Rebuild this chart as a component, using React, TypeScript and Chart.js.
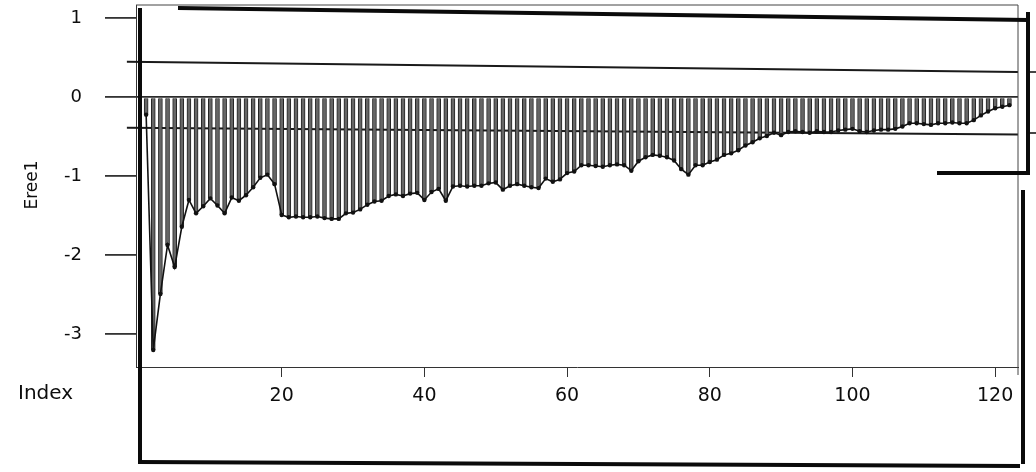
import React, { useEffect, useRef } from "react";
import { Chart, registerables } from "chart.js";

Chart.register(...registerables);

// Residual series (Eree1) by observation index
const EREE1: number[] = [
  -0.22, -3.2, -2.49, -1.87, -2.15, -1.64, -1.3, -1.47, -1.38, -1.28,
  -1.37, -1.47, -1.27, -1.31, -1.24, -1.14, -1.02, -0.98, -1.1, -1.49,
  -1.52, -1.51, -1.52, -1.52, -1.51, -1.53, -1.54, -1.54, -1.47, -1.46,
  -1.42, -1.36, -1.32, -1.31, -1.25, -1.23, -1.25, -1.22, -1.21, -1.3,
  -1.2, -1.16, -1.31, -1.13, -1.12, -1.13, -1.12, -1.12, -1.09, -1.08,
  -1.17, -1.12, -1.1, -1.12, -1.14, -1.15, -1.03, -1.07, -1.04, -0.96,
  -0.94, -0.86, -0.86, -0.87, -0.88, -0.86, -0.85, -0.86, -0.93, -0.81,
  -0.76, -0.73, -0.74, -0.76, -0.8, -0.91, -0.98, -0.86, -0.86, -0.82,
  -0.79, -0.73, -0.71, -0.67, -0.61, -0.57, -0.52, -0.49, -0.45, -0.48,
  -0.44, -0.43, -0.44, -0.45, -0.43, -0.44, -0.44, -0.42, -0.41, -0.4,
  -0.43, -0.44, -0.42, -0.41, -0.41, -0.4, -0.37, -0.33, -0.33, -0.34,
  -0.35, -0.33, -0.33, -0.32, -0.33, -0.33, -0.29, -0.23, -0.18, -0.14,
  -0.12, -0.1,
];
const INDEX: number[] = EREE1.map((_, i) => i + 1);

const REF_X: number[] = [-1.7, 123.2];
const REF_UPPER: number[] = [0.45, 0.32];
const REF_LOWER: number[] = [-0.385, -0.47];

const Y_TICKS: number[] = [1, 0, -1, -2, -3];
const X_TICKS: number[] = [20, 40, 60, 80, 100, 120];

const X_MIN = -0.42;
const X_MAX = 123.2;
const Y_MIN = -3.415;
const Y_MAX = 1.168;

const FONT = "'DejaVu Sans', 'Liberation Sans', Arial, sans-serif";
const INK = "#0d0d0d";

const decorPlugin = {
  id: "decor",
  afterDraw(chart: any) {
    const { ctx, chartArea } = chart;
    ctx.save();
    // thin plot box (top / right)
    ctx.strokeStyle = "#444";
    ctx.lineWidth = 1;
    ctx.beginPath();
    ctx.moveTo(chartArea.left, chartArea.top);
    ctx.lineTo(chartArea.right, chartArea.top);
    ctx.lineTo(chartArea.right, chartArea.bottom + 8);
    ctx.stroke();

    // texts
    ctx.fillStyle = INK;
    ctx.font = `20px ${FONT}`;
    ctx.textBaseline = "middle";
    ctx.textAlign = "left";
    ctx.fillText("Index", 18, 394);
    ctx.save();
    ctx.translate(33, 185);
    ctx.rotate(-Math.PI / 2);
    ctx.textAlign = "center";
    ctx.font = `17px ${FONT}`;
    ctx.fillText("Eree1", 0, 0);
    ctx.restore();

    // thick hand-drawn frame
    ctx.strokeStyle = "#0a0a0a";
    ctx.lineWidth = 4;
    ctx.lineCap = "butt";
    const seg = (x1: number, y1: number, x2: number, y2: number) => {
      ctx.beginPath();
      ctx.moveTo(x1, y1);
      ctx.lineTo(x2, y2);
      ctx.stroke();
    };
    seg(140, 8, 140, 463);
    seg(138, 462, 1020, 466);
    seg(178, 8, 1028, 20);
    seg(1028, 12, 1028, 175);
    seg(937, 173, 1028, 173);
    seg(1023, 190, 1023, 464);
    ctx.lineWidth = 1.5;
    seg(1030, 72, 1036, 72);
    seg(1027, 133, 1036, 133);
    ctx.restore();
  },
};

export default function App() {
  const ref = useRef<HTMLCanvasElement | null>(null);

  useEffect(() => {
    if (!ref.current) return;
    const pts = INDEX.map((x, i) => ({ x, y: EREE1[i] }));
    const chart = new Chart(ref.current, {
      type: "bar",
      data: {
        datasets: [
          {
            type: "line",
            data: REF_X.map((x, i) => ({ x, y: REF_UPPER[i] })),
            borderColor: "#1a1a1a",
            borderWidth: 2,
            pointRadius: 0,
            clip: false,
            order: 3,
          } as any,
          {
            type: "line",
            data: REF_X.map((x, i) => ({ x, y: REF_LOWER[i] })),
            borderColor: "#1a1a1a",
            borderWidth: 2,
            pointRadius: 0,
            clip: false,
            order: 3,
          } as any,
          {
            type: "bar",
            data: pts,
            backgroundColor: "#666",
            borderColor: "#222",
            borderWidth: { left: 1, right: 1, top: 0, bottom: 0 },
            borderSkipped: false,
            barThickness: 4,
            order: 2,
          } as any,
          {
            type: "line",
            data: pts,
            borderColor: "#111",
            borderWidth: 1.6,
            pointRadius: 2.2,
            pointBackgroundColor: "#111",
            pointBorderColor: "#111",
            pointBorderWidth: 0,
            tension: 0,
            order: 1,
          } as any,
        ],
      },
      options: {
        responsive: false,
        animation: false,
        events: [],
        layout: { padding: { top: 5, right: 18, left: 0, bottom: 0 } },
        plugins: {
          legend: { display: false },
          tooltip: { enabled: false },
          title: { display: false },
        },
        scales: {
          x: {
            type: "linear",
            min: X_MIN,
            max: X_MAX,
            offset: false,
            afterBuildTicks: (s: any) => {
              s.ticks = X_TICKS.map((v) => ({ value: v }));
            },
            afterFit: (s: any) => {
              s.height = 105;
              s.paddingLeft = 0;
              s.paddingRight = 0;
            },
            grid: {
              offset: false,
              drawOnChartArea: false,
              drawTicks: true,
              tickLength: 10,
              tickColor: "#333",
              color: "#333",
            },
            border: { display: true, color: "#333", width: 1 },
            ticks: {
              color: INK,
              font: { family: FONT, size: 19 },
              padding: 8,
              maxRotation: 0,
              autoSkip: false,
            },
          },
          y: {
            type: "linear",
            min: Y_MIN,
            max: Y_MAX,
            afterBuildTicks: (s: any) => {
              s.ticks = Y_TICKS.map((v) => ({ value: v }));
            },
            afterFit: (s: any) => {
              s.width = 136;
              s.paddingTop = 0;
              s.paddingBottom = 0;
            },
            grid: {
              drawOnChartArea: true,
              drawTicks: true,
              tickLength: 31,
              tickColor: "#333",
              lineWidth: 1.8,
              color: (c: any) =>
                c.tick && c.tick.value === 0 ? "#2a2a2a" : "rgba(0,0,0,0)",
            },
            border: { display: true, color: "#333", width: 1 },
            ticks: {
              color: INK,
              font: { family: FONT, size: 18 },
              padding: 23,
              autoSkip: false,
              callback: (v: any) => String(v),
            },
          },
        },
      },
      plugins: [decorPlugin],
    });
    return () => chart.destroy();
  }, []);

  return (
    <div
      style={{
        position: "absolute",
        left: 0,
        top: 0,
        width: 1036,
        height: 472,
        background: "#fff",
      }}
    >
      <canvas ref={ref} width={1036} height={472} />
    </div>
  );
}
